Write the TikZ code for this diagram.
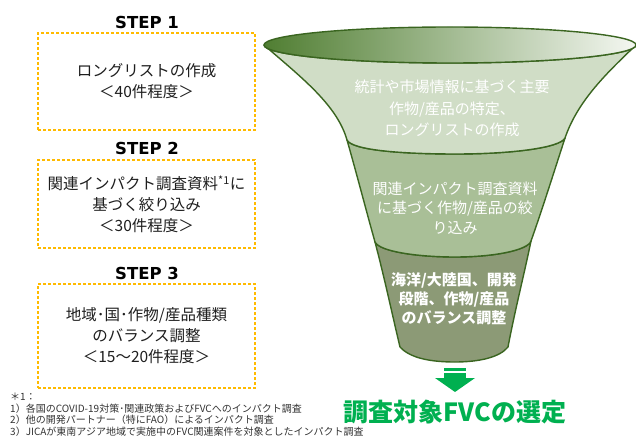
\documentclass[tikz,border=0pt]{standalone}
\usepackage{fontspec}
\setmainfont{Noto Sans CJK JP}
\newfontfamily\stepfont{DejaVu Sans}
\definecolor{topdark}{HTML}{507E32}
\definecolor{toplight}{HTML}{F4F7F1}
\definecolor{bandone}{HTML}{D0DDC6}
\definecolor{bandtwo}{HTML}{A9BF97}
\definecolor{bandthree}{HTML}{8C9A76}
\definecolor{funnelborder}{HTML}{3A6520}
\definecolor{boxorange}{HTML}{FFBA00}
\definecolor{arrowgreen}{HTML}{00B050}
\definecolor{bodytext}{HTML}{1E1E1E}
\definecolor{notetext}{HTML}{333333}
\tikzset{
  stepbox/.style={draw=boxorange, line width=1.3pt, dash pattern=on 3pt off 2pt,
    minimum width=217pt, align=center, text=bodytext,
    font=\fontsize{15.5}{21}\selectfont, inner sep=0pt},
  steplabel/.style={font=\stepfont\bfseries\fontsize{16.5}{20}\selectfont, text=black},
  funneltext/.style={align=center, text=white, inner sep=0pt},
  funnelline/.style={draw=funnelborder, line width=1.4pt, line join=round},
  notetxt/.style={anchor=west, text=notetext, font=\fontsize{10}{11}\selectfont, inner sep=0pt},
  arrowpart/.style={fill=arrowgreen, draw=none}
}
\begin{document}
\begin{tikzpicture}[x=1pt,y=-1pt]
\useasboundingbox (0,0) rectangle (636,438);

% STEP labels and boxes
\node[steplabel] (s1) at (147,22) {STEP 1};
\node[stepbox, minimum height=97pt] (box1) at (146.5,81.5) {ロングリストの作成\\＜40件程度＞};
\node[steplabel] (s2) at (147,148) {STEP 2};
\node[stepbox, minimum height=88pt] (box2) at (146.5,204) {関連インパクト調査資料\textsuperscript{*1}に\\基づく絞り込み\\＜30件程度＞};
\node[steplabel] (s3) at (147,273) {STEP 3};
\node[stepbox, minimum height=104pt] (box3) at (146.5,336) {地域･国･作物/産品種類\\のバランス調整\\＜15～20件程度＞};

% footnotes
\node[notetxt] (n0) at (10,397) {＊1：};
\node[notetxt] (n1) at (10,408.5) {1）各国のCOVID-19対策･関連政策およびFVCへのインパクト調査};
\node[notetxt] (n2) at (10,420) {2）他の開発パートナー（特にFAO）によるインパクト調査};
\node[notetxt] (n3) at (10,431.5) {3）JICAが東南アジア地域で実施中のFVC関連案件を対象としたインパクト調査};

% funnel band 3
\path[funnelline, fill=bandthree]
  (375,242) .. controls (385,280) and (393,318) .. (400,347)
  .. controls (410,358) and (430,362) .. (455,362)
  .. controls (480,362) and (500,357) .. (508,347)
  .. controls (515,310) and (524,275) .. (531,241)
  .. controls (528,250) and (495,257) .. (455,257)
  .. controls (420,257) and (380,252) .. (375,242) -- cycle;
% funnel band 2
\path[funnelline, fill=bandtwo]
  (347,140) .. controls (357,175) and (366,210) .. (375,242)
  .. controls (380,252) and (420,257) .. (455,257)
  .. controls (495,257) and (528,250) .. (531,241)
  .. controls (542,210) and (553,175) .. (565,138)
  .. controls (560,148) and (510,154) .. (456,154)
  .. controls (400,154) and (352,150) .. (347,140) -- cycle;
% funnel band 1
\path[funnelline, fill=bandone]
  (264,45) .. controls (302,78) and (337,105) .. (347,140)
  .. controls (352,150) and (400,154) .. (456,154)
  .. controls (510,154) and (560,148) .. (565,138)
  .. controls (578,100) and (608,72) .. (636,45)
  .. controls (636,54.9) and (552.7,63) .. (450,63)
  .. controls (347.3,63) and (264,54.9) .. (264,45) -- cycle;
% top ellipse
\path[funnelline, left color=topdark, right color=toplight]
  (264,45) .. controls (264,35.1) and (347.3,27) .. (450,27)
  .. controls (552.7,27) and (636,35.1) .. (636,45)
  .. controls (636,54.9) and (552.7,63) .. (450,63)
  .. controls (347.3,63) and (264,54.9) .. (264,45) -- cycle;

% funnel texts
\node[funneltext, font=\fontsize{15}{21.5}\selectfont] (t1) at (452,108.5)
  {統計や市場情報に基づく主要\\作物/産品の特定、\\ロングリストの作成};
\node[funneltext, font=\fontsize{15}{19.5}\selectfont] (t2) at (455,208)
  {関連インパクト調査資料\\に基づく作物/産品の絞\\り込み};
\node[funneltext, font=\bfseries\fontsize{15}{19}\selectfont] (t3) at (454,299)
  {海洋/大陸国、開発\\段階、作物/産品\\のバランス調整};

% down arrow
\fill[arrowpart] (444,368) rectangle (466,370.5);
\fill[arrowpart] (444,372.5) rectangle (466,379);
\fill[arrowpart] (435,378) -- (475,378) -- (455,392) -- cycle;

% result
\node[text=arrowgreen, font=\bfseries\fontsize{25}{28}\selectfont, inner sep=0pt] (res) at (455,412) {調査対象FVCの選定};
\end{tikzpicture}
\end{document}
